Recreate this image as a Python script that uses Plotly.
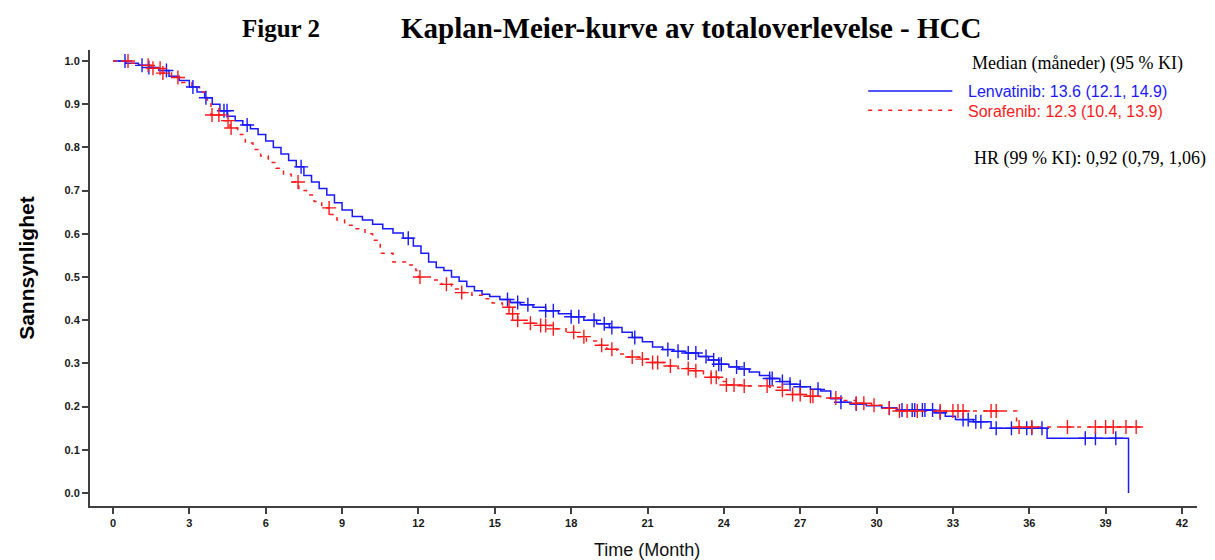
import numpy as np
import plotly.graph_objects as go

# ---------------- data ----------------
lenva_time = [0, 0.5, 1.0, 1.4, 1.8, 2.2, 2.6, 3.0, 3.3, 3.6, 3.9, 4.2, 4.5, 4.8, 5.1, 5.4, 5.7,
              6.0, 6.3, 6.6, 6.9, 7.2, 7.5, 7.8, 8.1, 8.4, 8.7, 9.0, 9.4, 9.8, 10.2, 10.6, 11.0,
              11.4, 11.8, 12.1, 12.4, 12.7, 13.0, 13.3, 13.6, 13.9, 14.2, 14.5, 14.8, 15.2, 15.6,
              16.0, 16.5, 17.0, 17.5, 18.0, 18.5, 19.0, 19.5, 20.0, 20.4, 20.8, 21.2, 21.6, 22.0,
              22.5, 23.0, 23.4, 23.8, 24.2, 24.6, 25.0, 25.4, 25.8, 26.2, 26.6, 27.0, 27.4, 27.8,
              28.2, 28.6, 29.0, 29.6, 30.2, 30.8, 32.3, 32.7, 33.1, 33.8, 34.5, 36.7, 39.9]
lenva_surv = [1.0, 0.995, 0.99, 0.985, 0.978, 0.965, 0.955, 0.94, 0.928, 0.915, 0.9, 0.885, 0.872,
              0.862, 0.852, 0.843, 0.83, 0.815, 0.8, 0.785, 0.77, 0.755, 0.735, 0.72, 0.705, 0.69,
              0.672, 0.655, 0.64, 0.632, 0.622, 0.612, 0.602, 0.59, 0.572, 0.555, 0.535, 0.522,
              0.515, 0.5, 0.49, 0.478, 0.468, 0.46, 0.455, 0.448, 0.441, 0.436, 0.43, 0.422, 0.415,
              0.408, 0.4, 0.392, 0.383, 0.372, 0.36, 0.35, 0.338, 0.332, 0.328, 0.324, 0.316,
              0.308, 0.298, 0.292, 0.287, 0.28, 0.272, 0.265, 0.258, 0.252, 0.246, 0.24, 0.236,
              0.218, 0.21, 0.206, 0.202, 0.197, 0.192, 0.186, 0.178, 0.17, 0.165, 0.15, 0.127, 0.0]
lenva_censor = [0.47, 1.14, 1.41, 2.1, 3.14, 3.65, 4.36, 4.48, 5.27, 7.39, 11.6, 15.5, 15.9, 16.3,
                17.0, 17.3, 18.0, 18.3, 18.9, 19.3, 19.6, 20.5, 21.8, 22.2, 22.6, 22.9, 23.3, 23.6,
                23.8, 23.9, 24.5, 24.8, 25.8, 25.9, 26.3, 26.6, 27.0, 27.7, 28.6, 29.2, 30.5, 31.0,
                31.4, 31.5, 31.8, 31.9, 32.2, 32.5, 33.4, 33.6, 33.9, 34.1, 34.7, 35.3, 35.9, 36.1,
                36.5, 38.2, 38.6, 39.4]

sora_time = [0, 0.6, 1.0, 1.5, 1.9, 2.3, 2.7, 3.1, 3.4, 3.7, 3.85, 4.3, 4.6, 4.9, 5.2, 5.5, 5.8,
             6.1, 6.4, 6.7, 7.0, 7.3, 7.6, 7.9, 8.2, 8.5, 8.8, 9.1, 9.5, 9.9, 10.2, 10.5, 11.0,
             11.5, 11.9, 12.0, 12.5, 12.9, 13.3, 13.7, 14.1, 14.5, 14.9, 15.3, 15.6, 15.9, 16.3,
             16.8, 17.3, 17.8, 18.2, 18.6, 19.0, 19.4, 19.8, 20.2, 20.7, 21.2, 21.7, 22.2, 22.7,
             23.2, 23.5, 23.8, 24.1, 24.8, 25.8, 26.3, 26.7, 27.2, 27.8, 28.6, 29.2, 29.8, 30.3,
             30.8, 35.5, 40.35]
sora_surv = [1.0, 0.995, 0.99, 0.983, 0.972, 0.962, 0.95, 0.94, 0.928, 0.91, 0.875, 0.862, 0.845,
             0.83, 0.81, 0.795, 0.78, 0.765, 0.752, 0.738, 0.72, 0.7, 0.69, 0.675, 0.66, 0.645,
             0.632, 0.62, 0.612, 0.6, 0.585, 0.555, 0.535, 0.528, 0.515, 0.5, 0.493, 0.483, 0.472,
             0.464, 0.458, 0.45, 0.44, 0.43, 0.415, 0.4, 0.393, 0.388, 0.38, 0.372, 0.362, 0.352,
             0.342, 0.333, 0.322, 0.315, 0.31, 0.302, 0.294, 0.288, 0.283, 0.276, 0.268, 0.258,
             0.25, 0.248, 0.245, 0.238, 0.228, 0.224, 0.22, 0.214, 0.208, 0.203, 0.196, 0.19,
             0.153, 0.153]
sora_censor = [0.59, 1.38, 1.57, 1.85, 1.96, 2.55, 3.89, 4.16, 4.52, 4.64, 7.27, 8.49, 12.06, 13.1,
               13.7, 15.56, 15.7, 15.9, 16.4, 16.8, 17.0, 17.3, 18.1, 18.5, 19.2, 19.6, 20.4, 20.8,
               21.2, 21.4, 21.9, 22.6, 22.9, 23.5, 23.7, 24.1, 24.4, 24.8, 25.7, 26.3, 26.7, 27.0,
               27.4, 27.5, 28.4, 29.2, 29.5, 29.9, 30.5, 30.9, 31.2, 31.6, 32.5, 33.0, 33.2, 33.4,
               34.5, 34.7, 35.6, 36.1, 37.5, 38.6, 39.0, 39.3, 39.8, 40.2]

x_ticks = [0, 3, 6, 9, 12, 15, 18, 21, 24, 27, 30, 33, 36, 39, 42]
y_ticks = [0.0, 0.1, 0.2, 0.3, 0.4, 0.5, 0.6, 0.7, 0.8, 0.9, 1.0]

title_fig = "Figur 2"
title_main = "Kaplan-Meier-kurve av totaloverlevelse - HCC"
legend_header = "Median (måneder) (95 % KI)"
lenva_label = "Lenvatinib: 13.6 (12.1, 14.9)"
sora_label = "Sorafenib: 12.3 (10.4, 13.9)"
hr_text = "HR (99 % KI): 0,92 (0,79, 1,06)"

BLUE = "#1a1aff"
RED = "#ff1a1a"


def step_at(times, surv, t):
    idx = np.searchsorted(np.asarray(times), np.asarray(t), side="right") - 1
    return np.asarray(surv)[idx]


fig = go.Figure()

fig.add_trace(go.Scatter(x=lenva_time, y=lenva_surv, mode="lines", line_shape="hv",
                         line=dict(color=BLUE, width=1.5), showlegend=False, hoverinfo="skip"))
fig.add_trace(go.Scatter(x=sora_time, y=sora_surv, mode="lines", line_shape="hv",
                         line=dict(color=RED, width=1.5, dash="4px,6px"), showlegend=False,
                         hoverinfo="skip"))
fig.add_trace(go.Scatter(x=lenva_censor, y=step_at(lenva_time, lenva_surv, lenva_censor),
                         mode="markers",
                         marker=dict(symbol="cross-thin", size=10,
                                     line=dict(color=BLUE, width=1.4)),
                         showlegend=False, hoverinfo="skip"))
fig.add_trace(go.Scatter(x=sora_censor, y=step_at(sora_time, sora_surv, sora_censor),
                         mode="markers",
                         marker=dict(symbol="cross-thin", size=10,
                                     line=dict(color=RED, width=1.4)),
                         showlegend=False, hoverinfo="skip"))

axis_common = dict(showline=True, linecolor="#404040", linewidth=2, ticks="outside",
                   ticklen=6, tickwidth=1.5, tickcolor="#404040", showgrid=False,
                   zeroline=False,
                   tickfont=dict(family="Liberation Sans, Arial", size=11, color="#1a1a1a",
                                 weight="bold"))

fig.update_xaxes(range=[-0.904, 42.59], tickvals=x_ticks, ticktext=[str(v) for v in x_ticks],
                 **axis_common)
fig.update_yaxes(range=[-0.030, 1.0255], tickvals=y_ticks,
                 ticktext=[f"{v:.1f}" for v in y_ticks], **axis_common)

# legend lines
fig.add_shape(type="line", xref="paper", yref="paper", x0=0.703, x1=0.779, y0=0.910, y1=0.910,
              line=dict(color=BLUE, width=1.5))
fig.add_shape(type="line", xref="paper", yref="paper", x0=0.703, x1=0.779, y0=0.868, y1=0.868,
              line=dict(color=RED, width=1.5, dash="4px,6px"))

serif = "Liberation Serif, Times New Roman"
sans = "Liberation Sans, Arial"
ann = [
    dict(text=title_fig, x=(281 - 90) / 1107, y=1.0, yshift=22,
         font=dict(family=serif, size=25, color="black", weight="bold"),
         xanchor="center", yanchor="middle"),
    dict(text=title_main, x=(691 - 90) / 1107, y=1.0, yshift=22,
         font=dict(family=serif, size=29, color="black", weight="bold"),
         xanchor="center", yanchor="middle"),
    dict(text=legend_header, x=0.795, y=0.971, font=dict(family=serif, size=18, color="black"),
         xanchor="left", yanchor="middle"),
    dict(text=lenva_label, x=0.791, y=0.908, font=dict(family=sans, size=16, color=BLUE),
         xanchor="left", yanchor="middle"),
    dict(text=sora_label, x=0.791, y=0.866, font=dict(family=sans, size=16, color=RED),
         xanchor="left", yanchor="middle"),
    dict(text=hr_text, x=0.797, y=0.763, font=dict(family=serif, size=18, color="black"),
         xanchor="left", yanchor="middle"),
    dict(text="Sannsynlighet", x=-0.057, y=0.522, textangle=-90,
         font=dict(family=sans, size=21, color="black", weight="bold"),
         xanchor="center", yanchor="middle"),
    dict(text="Time (Month)", x=0.503, y=0, yshift=-32,
         font=dict(family=sans, size=18, color="#111"), xanchor="center", yanchor="top"),
]
for a in ann:
    a.setdefault("xref", "paper")
    a.setdefault("yref", "paper")
    a["showarrow"] = False
    fig.add_annotation(**a)

fig.update_layout(width=1215, height=560, margin=dict(l=90, r=18, t=50, b=54),
                  plot_bgcolor="white", paper_bgcolor="white")

fig.write_html("out.html")
